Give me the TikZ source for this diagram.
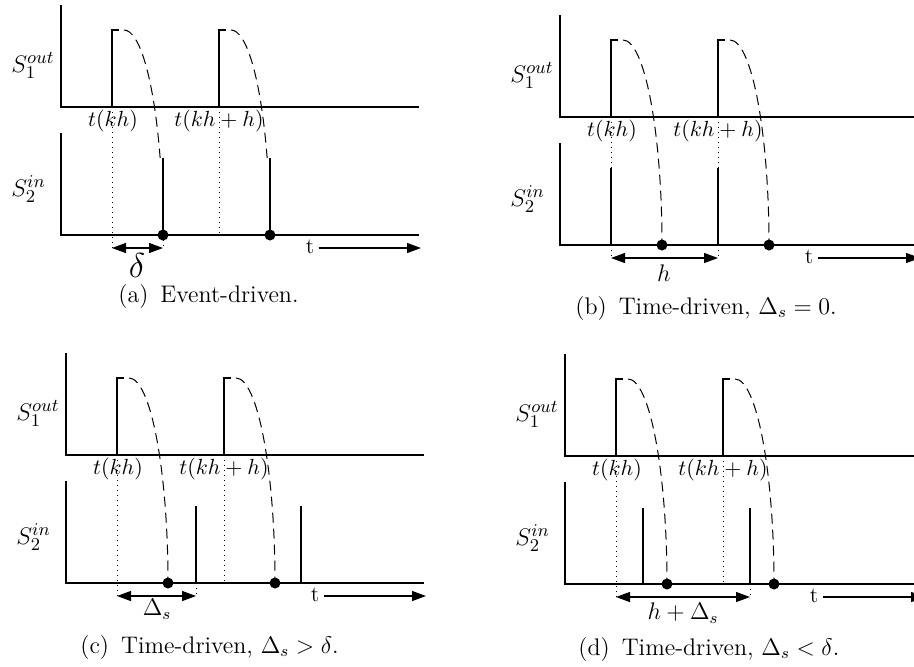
\documentclass[tikz,border=0pt]{standalone}
\usetikzlibrary{arrows.meta}
\tikzset{
  axis/.style={line width=1.2pt},
  pulse/.style={line width=0.65pt},
  curve/.style={line width=0.5pt, dash pattern=on 5pt off 3pt},
  guide/.style={line width=0.5pt, dash pattern=on 0.5pt off 2pt},
  dimarrow/.style={line width=0.6pt, {Triangle[length=7pt,width=5pt]}-{Triangle[length=7pt,width=5pt]}},
  timearrow/.style={line width=0.6pt, -{Triangle[length=7pt,width=5pt]}},
  dot/.style={circle, fill, inner sep=0pt, minimum size=5.5pt},
  lbl/.style={font=\fontsize{11}{13}\selectfont, inner sep=0pt},
  slbl/.style={font=\fontsize{13}{15}\selectfont, inner sep=0pt, anchor=base west},
  captext/.style={font=\fontsize{12}{14}\selectfont, inner sep=0pt, anchor=base west},
}
% common frame of one panel, #1 = name prefix
\newcommand\panelbase[1]{%
  \coordinate (#1-top) at (0,-102);
  \coordinate (#1-o) at (0,0);
  \coordinate (#1-end) at (358,0);
  \draw[axis] (#1-top) -- (#1-o) -- (#1-end);
  \coordinate (#1-bt) at (0,26);
  \coordinate (#1-bo) at (0,128);
  \coordinate (#1-be) at (358,128);
  \draw[axis] (#1-bt) -- (#1-bo) -- (#1-be);
  \coordinate (#1-p1) at (51,0);
  \coordinate (#1-p1t) at (51,-77);
  \coordinate (#1-p1k) at (58,-77);
  \coordinate (#1-p2) at (158,0);
  \coordinate (#1-p2t) at (158,-77);
  \coordinate (#1-p2k) at (165,-77);
  \draw[pulse] (#1-p1) -- (#1-p1t) -- (#1-p1k);
  \draw[pulse] (#1-p2) -- (#1-p2t) -- (#1-p2k);
  \node[slbl] (#1-s1) at (-50,-35) {$S_1^{out}$};
  \node[slbl] (#1-s2) at (-50,89) {$S_2^{in}$};
  \node[lbl] (#1-l1) at (52,14) {$t(kh)$};
  \node[lbl] (#1-l2) at (158,14) {$t(kh+h)$};
  \node[lbl, anchor=base] (#1-t) at (249,146) {t};
  \coordinate (#1-tend) at (360,141);
  \draw[timearrow] ([xshift=2pt]#1-t.east |- #1-tend) -- (#1-tend);
}
% dashed propagation curve from the pulse at x=#2; #3 = end angle
\newcommand\propcurve[3]{%
  \coordinate (#1) at (#2+12,-77);
  \draw[curve] (#1) arc[start angle=90, end angle=#3, x radius=19.5pt, y radius=102.5pt];
}
\begin{document}
\begin{tikzpicture}[x=0.5pt, y=-0.5pt]
\useasboundingbox (0,0) rectangle (914,666);
\clip (0,0) rectangle (914,666);

% ---------------- (a) Event-driven
\begin{scope}[shift={(61,107)}]
  \panelbase{a}
  \propcurve{a-c1}{51}{22.06}
  \propcurve{a-c2}{158}{22.06}
  \coordinate (a-r1) at (102,51);
  \coordinate (a-r2) at (209,51);
  \node[dot] (a-d1) at (102,128) {};
  \node[dot] (a-d2) at (209,128) {};
  \draw[pulse] (a-r1) -- (a-d1.center);
  \draw[pulse] (a-r2) -- (a-d2.center);
  \coordinate (a-m1) at (51,141);
  \coordinate (a-m2) at (102,141);
  \coordinate (a-g2) at (158,128);
  \draw[guide] (a-p1) -- (a-m1);
  \draw[guide] (a-p2) -- (a-g2);
  \draw[guide] (a-d1.center) -- (a-m2);
  \draw[dimarrow] (a-m1) -- (a-m2);
  \node[inner sep=0pt, font=\fontsize{17}{19}\selectfont] (a-delta) at (76,158) {$\delta$};
\end{scope}
\node[captext] (a-cap) at (118,302) {(a)\hspace{0.5em}Event-driven.};

% ---------------- (b) Time-driven, Delta_s = 0
\begin{scope}[shift={(560,117)}]
  \panelbase{b}
  \propcurve{b-c1}{51}{0}
  \propcurve{b-c2}{158}{0}
  \node[dot] (b-d1) at (102,128) {};
  \node[dot] (b-d2) at (209,128) {};
  \coordinate (b-r1) at (51,51);
  \coordinate (b-r2) at (158,51);
  \coordinate (b-q1) at (51,128);
  \coordinate (b-q2) at (158,128);
  \draw[pulse] (b-r1) -- (b-q1);
  \draw[pulse] (b-r2) -- (b-q2);
  \coordinate (b-m1) at (51,141);
  \coordinate (b-m2) at (158,141);
  \draw[guide] (b-p1) -- (b-r1);
  \draw[guide] (b-p2) -- (b-r2);
  \draw[guide] (b-q1) -- (b-m1);
  \draw[guide] (b-q2) -- (b-m2);
  \draw[dimarrow] (b-m1) -- (b-m2);
  \node[lbl, font=\fontsize{12}{14}\selectfont] (b-h) at (104,156) {$h$};
\end{scope}
\node[captext] (b-cap) at (575,314) {(b)\hspace{0.5em}Time-driven, $\Delta_s=0$.};

% ---------------- (c) Time-driven, Delta_s > delta
\begin{scope}[shift={(66,455)}]
  \panelbase{c}
  \propcurve{c-c1}{51}{0}
  \propcurve{c-c2}{158}{0}
  \node[dot] (c-d1) at (102,128) {};
  \node[dot] (c-d2) at (209,128) {};
  \coordinate (c-r1) at (130,51);
  \coordinate (c-r2) at (235,51);
  \coordinate (c-q1) at (130,128);
  \coordinate (c-q2) at (235,128);
  \draw[pulse] (c-r1) -- (c-q1);
  \draw[pulse] (c-r2) -- (c-q2);
  \coordinate (c-m1) at (51,141);
  \coordinate (c-m2) at (130,141);
  \coordinate (c-g2) at (158,128);
  \draw[guide] (c-p1) -- (c-m1);
  \draw[guide] (c-p2) -- (c-g2);
  \draw[guide] (c-q1) -- (c-m2);
  \draw[dimarrow] (c-m1) -- (c-m2);
  \node[lbl, font=\fontsize{12}{14}\selectfont] (c-ds) at (91,154) {$\Delta_s$};
\end{scope}
\node[captext] (c-cap) at (80,653) {(c)\hspace{0.5em}Time-driven, $\Delta_s>\delta$.};

% ---------------- (d) Time-driven, Delta_s < delta
\begin{scope}[shift={(565,456)}]
  \panelbase{d}
  \propcurve{d-c1}{51}{0}
  \propcurve{d-c2}{158}{0}
  \node[dot] (d-d1) at (102,128) {};
  \node[dot] (d-d2) at (209,128) {};
  \coordinate (d-r1) at (78,52);
  \coordinate (d-r2) at (185,52);
  \coordinate (d-q1) at (78,128);
  \coordinate (d-q2) at (185,128);
  \draw[pulse] (d-r1) -- (d-q1);
  \draw[pulse] (d-r2) -- (d-q2);
  \coordinate (d-m1) at (51,141);
  \coordinate (d-m2) at (185,141);
  \coordinate (d-g2) at (158,128);
  \draw[guide] (d-p1) -- (d-m1);
  \draw[guide] (d-p2) -- (d-g2);
  \draw[guide] (d-q2) -- (d-m2);
  \draw[dimarrow] (d-m1) -- (d-m2);
  \node[lbl, font=\fontsize{11.5}{14}\selectfont] (d-hds) at (118,157) {$h+\Delta_s$};
\end{scope}
\node[captext] (d-cap) at (578,655) {(d)\hspace{0.5em}Time-driven, $\Delta_s<\delta$.};
\end{tikzpicture}
\end{document}
